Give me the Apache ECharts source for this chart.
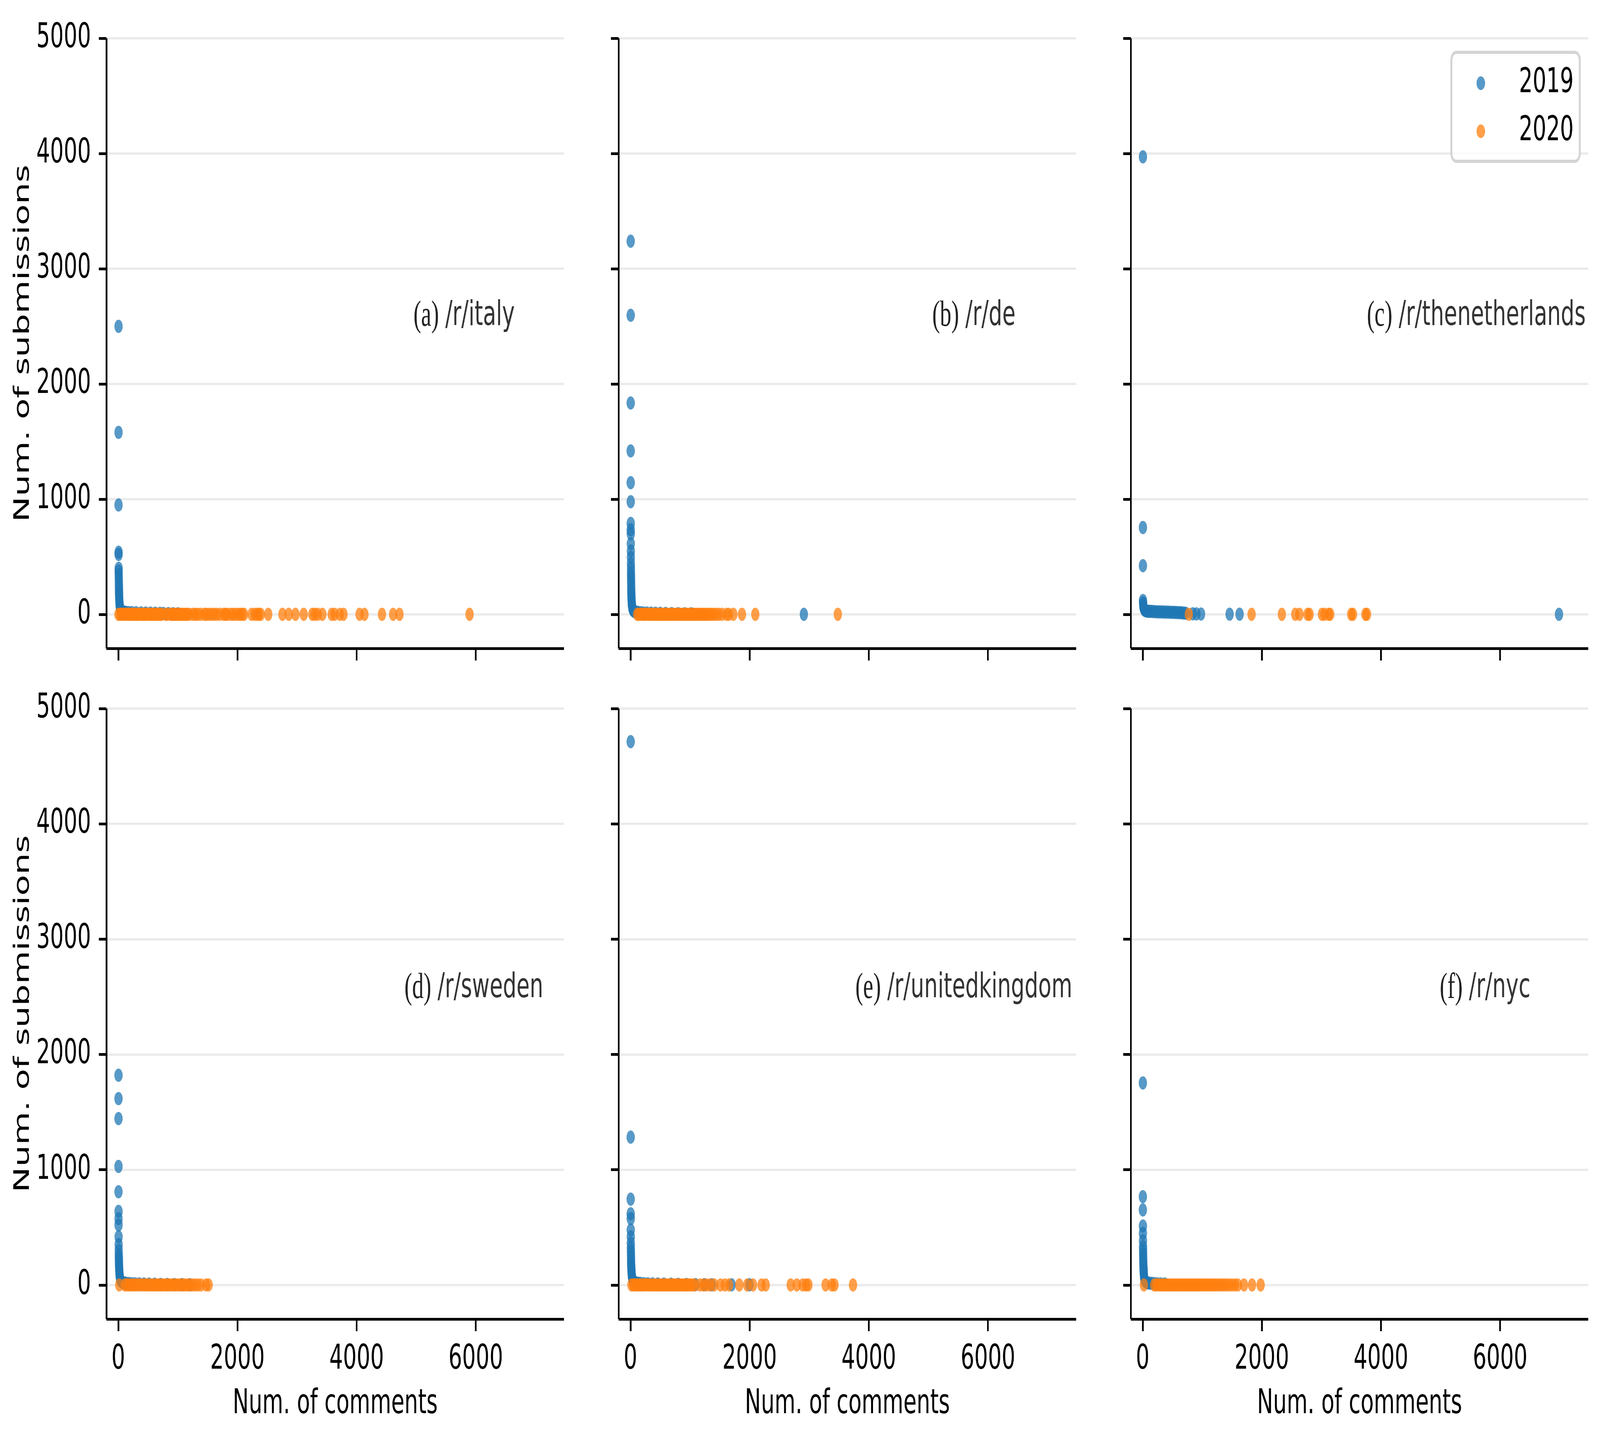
<!DOCTYPE html>
<html><head><meta charset="utf-8">
<script src="https://cdn.jsdelivr.net/npm/echarts@6/dist/echarts.min.js"></script>
<style>html,body{margin:0;padding:0;background:#fff;overflow:hidden}#c{width:6557px;height:3661px;transform-origin:0 0;position:absolute;left:0;top:0}</style>
</head><body><div id="c"></div>
<script>
// ---- data: [num. of comments, num. of submissions] ----
const italy2019 = [[4,2500],[4,1580],[4,950],[5,540],[5,520],[6,400],[6,375],[7,345],[8,315],[9,285],[10,255],[11,228],[12,200],[13,178],[14,155],[16,135],[18,115],[20,98],[22,82],[25,68],[28,55],[33,45],[40,37],[52,30],[70,25],[95,21],[130,18],[175,16],[230,15],[300,14],[380,13],[460,12],[540,11],[620,10],[700,9],[755,8],[840,7],[920,6],[1000,5]];
const italy2020 = [[2,0],[28,2],[52,1],[75,2],[98,1],[122,1],[145,2],[170,1],[193,1],[218,1],[241,2],[266,1],[290,1],[313,1],[338,1],[362,2],[385,1],[410,1],[433,1],[458,1],[482,1],[506,2],[530,1],[555,1],[578,1],[602,1],[628,1],[652,1],[676,1],[702,1],[725,1],[795,1],[812,1],[872,1],[895,1],[920,1],[946,1],[972,1],[998,1],[1025,1],[1050,1],[1078,1],[1104,1],[1132,1],[1160,1],[1192,1],[1253,1],[1290,1],[1329,1],[1378,1],[1441,1],[1476,1],[1517,1],[1563,1],[1610,1],[1652,1],[1704,1],[1766,1],[1798,1],[1829,1],[1885,1],[1923,1],[1967,1],[2012,1],[2048,1],[2080,1],[2111,1],[2236,1],[2288,1],[2330,1],[2362,1],[2392,1],[2517,1],[2755,1],[2861,1],[2974,1],[3112,1],[3256,1],[3299,1],[3348,1],[3425,1],[3581,1],[3631,1],[3719,1],[3781,1],[4050,1],[4132,1],[4426,1],[4613,1],[4720,1],[5896,1]];
const de2019 = [[3,3239],[3,2596],[3,1835],[3,1419],[3,1143],[4,978],[4,790],[4,735],[5,700],[5,614],[6,550],[6,496],[7,441],[8,400],[8,360],[9,331],[10,300],[11,270],[12,239],[13,210],[14,185],[15,160],[17,140],[19,120],[21,100],[23,85],[26,70],[30,56],[35,45],[42,36],[54,29],[72,24],[96,20],[125,17],[165,15],[215,13],[275,12],[345,11],[420,10],[500,9],[590,8],[690,7],[800,6],[910,5],[1020,5],[2910,1]];
const de2020 = [[110,1],[136,1],[160,2],[186,1],[211,1],[238,1],[263,1],[290,2],[316,1],[341,1],[368,1],[394,1],[421,1],[447,1],[474,1],[501,1],[528,1],[554,1],[582,1],[609,1],[636,1],[663,1],[690,1],[717,1],[744,1],[772,1],[799,1],[826,1],[853,1],[880,1],[908,1],[934,1],[962,1],[990,1],[1017,1],[1044,1],[1072,1],[1100,1],[1127,1],[1155,1],[1183,1],[1211,1],[1240,1],[1269,1],[1299,1],[1331,1],[1365,1],[1401,1],[1440,1],[1482,1],[1537,1],[1612,1],[1652,1],[1727,1],[1871,1],[2095,1],[3480,1]];
const nl2019 = [[4,3971],[4,754],[4,423],[5,120],[7,100],[9,85],[12,70],[15,58],[20,48],[28,40],[40,34],[58,30],[82,28],[108,27],[138,26],[168,25],[200,24],[234,23],[268,22],[302,22],[338,21],[372,20],[408,20],[444,19],[478,18],[514,18],[548,17],[584,16],[620,15],[654,14],[688,12],[722,10],[841,5],[902,4],[980,3],[1459,2],[1627,2],[6988,1]];
const nl2020 = [[774,1],[1828,1],[2336,1],[2561,1],[2632,1],[2767,1],[2802,1],[3008,1],[3053,1],[3121,1],[3148,1],[3500,1],[3530,1],[3738,1],[3766,1]];
const se2019 = [[3,1820],[3,1617],[3,1444],[3,1029],[3,809],[4,639],[4,576],[4,521],[5,419],[6,351],[7,301],[8,262],[9,237],[10,210],[12,185],[13,160],[15,140],[17,120],[19,100],[22,85],[25,70],[29,56],[34,45],[41,36],[52,29],[70,23],[95,19],[128,16],[170,14],[220,12],[280,11],[350,10],[430,9],[515,8],[610,7],[710,6],[820,5],[940,4],[1070,4],[1200,3]];
const se2020 = [[16,1],[108,1],[140,2],[172,1],[206,1],[240,1],[275,1],[312,1],[347,2],[382,1],[418,1],[452,1],[488,1],[522,1],[558,1],[593,1],[628,1],[664,1],[698,1],[734,1],[768,1],[804,1],[838,1],[874,1],[908,1],[944,1],[980,1],[1016,1],[1053,1],[1090,1],[1126,1],[1165,1],[1204,1],[1246,1],[1290,1],[1336,1],[1388,1],[1472,1],[1516,1]];
const uk2019 = [[3,4713],[3,1283],[3,745],[3,618],[4,576],[4,478],[5,419],[5,364],[6,322],[7,290],[8,260],[9,230],[10,205],[11,180],[13,160],[15,140],[17,120],[19,100],[22,85],[25,70],[29,56],[34,45],[41,36],[52,29],[70,23],[95,19],[128,16],[170,14],[225,12],[290,11],[370,10],[460,9],[560,8],[680,7],[800,6],[940,5],[1090,4],[1240,3],[1365,2],[1697,2],[1996,2]];
const uk2020 = [[16,1],[46,1],[76,2],[105,1],[134,1],[166,1],[196,1],[224,1],[255,2],[286,1],[314,1],[346,1],[376,1],[404,1],[436,1],[465,1],[494,1],[526,1],[556,1],[584,1],[616,1],[646,1],[674,1],[706,1],[736,1],[764,1],[796,1],[826,1],[854,1],[886,1],[916,1],[944,1],[976,1],[1006,1],[1040,1],[1078,1],[1164,1],[1222,1],[1279,1],[1337,1],[1406,1],[1510,1],[1585,1],[1654,1],[1826,1],[1959,1],[2057,1],[2200,1],[2269,1],[2689,1],[2792,1],[2890,1],[2947,1],[2987,1],[3275,1],[3378,1],[3424,1],[3735,1]];
const nyc2019 = [[3,1753],[3,766],[3,652],[4,512],[4,449],[5,385],[6,334],[7,300],[8,270],[9,240],[10,215],[11,190],[12,165],[14,145],[16,125],[18,105],[20,88],[23,72],[26,58],[30,46],[36,37],[45,30],[60,24],[80,20],[108,17],[145,15],[190,13],[240,11],[300,10],[370,9]];
const nyc2020 = [[20,1],[193,1],[224,1],[256,2],[287,1],[318,1],[350,1],[383,1],[414,1],[447,1],[480,1],[512,1],[545,1],[578,1],[610,1],[642,1],[675,1],[708,1],[740,1],[773,1],[805,1],[838,1],[870,1],[902,1],[935,1],[968,1],[1001,1],[1035,1],[1070,1],[1106,1],[1140,1],[1176,1],[1212,1],[1248,1],[1286,1],[1326,1],[1366,1],[1406,1],[1452,1],[1500,1],[1550,1],[1598,1],[1700,1],[1836,1],[1980,1]];

const panelTags = ['(a)','(b)','(c)','(d)','(e)','(f)'];
const panelNames = ['/r/italy','/r/de','/r/thenetherlands','/r/sweden','/r/unitedkingdom','/r/nyc'];
const seriesNames = ['2019','2020'];
const xTicks = [0,2000,4000,6000];
const yTicks = [0,1000,2000,3000,4000,5000];
const xRange = [-200, 7480];
const yRange = [-295, 5000];
const xTitle = 'Num. of comments';
const yTitle = 'Num. of submissions';

const data19 = [italy2019, de2019, nl2019, se2019, uk2019, nyc2019];
const data20 = [italy2020, de2020, nl2020, se2020, uk2020, nyc2020];

// ---- layout: drawn on a 6557 x 3661 canvas, fitted to the window ----
const DW = 6557, DH = 3661;
const el = document.getElementById('c');
function fit() {
  const kx = window.innerWidth / DW, ky = window.innerHeight / DH;
  el.style.transform = 'scale(' + kx + ',' + ky + ')';
}
fit();

const FONT = 'DejaVu Sans';
const colLeft = [436, 2535, 4634];
const rowTop = [98, 1814];
const gridW = 1875, gridH = [1562, 1563];
const tagCx = [1466, 1456, 1416, 1506, 1415, 1452];
const tagCy = [809, 2530];
const fs = 88;

const grids = [], xAxes = [], yAxes = [], series = [], graphics = [];
const spine = {show:true, onZero:false, lineStyle:{color:'#000', width:7, cap:'butt'}};
const tick = (vals) => ({show:true, inside:false, length:31, lineStyle:{color:'#000', width:7}, customValues: vals});
const plain = v => String(v);

for (let i = 0; i < 6; i++) {
  const r = Math.floor(i / 3), c = i % 3;
  grids.push({left: colLeft[c], top: rowTop[r], width: gridW, height: gridH[r], containLabel: false});
  xAxes.push({
    gridIndex: i, type: 'value', min: xRange[0], max: xRange[1],
    axisLine: spine, axisTick: tick(xTicks),
    axisLabel: {show: r === 1, customValues: xTicks, formatter: plain, margin: 60, fontSize: fs, color: '#000', fontFamily: FONT},
    splitLine: {show: false},
    name: r === 1 ? xTitle : '', nameLocation: 'middle', nameGap: 174,
    nameTextStyle: {fontSize: fs, color: '#000', fontFamily: FONT}
  });
  yAxes.push({
    gridIndex: i, type: 'value', min: yRange[0], max: yRange[1],
    axisLine: spine, axisTick: tick(yTicks),
    axisLabel: {show: c === 0, customValues: yTicks, formatter: plain, margin: 63, fontSize: fs, color: '#000', fontFamily: FONT},
    splitLine: {show: true, lineStyle: {color: '#ebebeb', width: 6}},
    name: c === 0 ? yTitle : '', nameLocation: 'middle', nameGap: 297,
    nameTextStyle: {fontSize: fs, color: '#000', fontFamily: FONT}
  });
  series.push({type: 'scatter', name: seriesNames[0], xAxisIndex: i, yAxisIndex: i, data: data19[i],
    symbol: 'circle', symbolSize: 34, itemStyle: {color: '#1f77b4', opacity: 0.75}, z: 2});
  series.push({type: 'scatter', name: seriesNames[1], xAxisIndex: i, yAxisIndex: i, data: data20[i],
    symbol: 'circle', symbolSize: 34, itemStyle: {color: '#ff7f0e', opacity: 0.75}, z: 3});
  graphics.push({
    type: 'text', x: colLeft[c] + tagCx[i], y: tagCy[r], z: 10,
    style: {
      text: '{p|' + panelTags[i] + '}{t|' + panelNames[i] + '}',
      align: 'center', verticalAlign: 'middle',
      rich: {
        p: {fontFamily: 'Liberation Serif', fontSize: 94, fill: '#222', padding: [0, 26, 0, 0]},
        t: {fontFamily: FONT, fontSize: fs, fill: '#333'}
      }
    }
  });
}

const chart = echarts.init(el, null, {renderer: 'canvas', width: DW, height: DH, devicePixelRatio: 1});
chart.setOption({
  animation: false,
  backgroundColor: '#fff',
  grid: grids, xAxis: xAxes, yAxis: yAxes, series: series,
  legend: {
    data: seriesNames, orient: 'vertical', left: 5948, top: 134,
    padding: [29, 25, 27, 103], itemWidth: 35, itemHeight: 35, itemGap: 23, icon: 'circle',
    textStyle: {fontSize: fs, fontFamily: FONT, color: '#000', padding: [0, 0, 0, 134], lineHeight: 100},
    borderColor: '#d4d4d4', borderWidth: 8, borderRadius: 20, backgroundColor: 'rgba(255,255,255,0.8)'
  },
  graphic: graphics
});
window.addEventListener('resize', fit);
</script>
</body></html>
